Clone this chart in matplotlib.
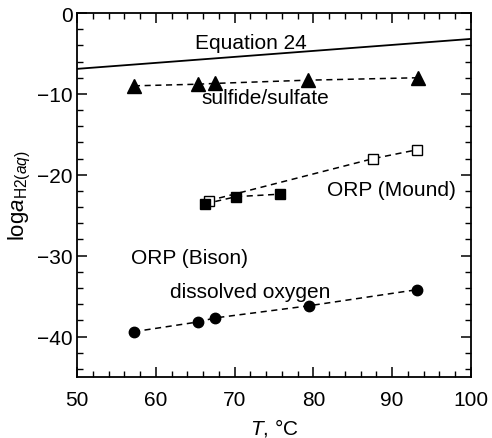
import numpy as np
import matplotlib
matplotlib.use('Agg')
from matplotlib import pyplot as plt

plt.rcParams['font.family'] = ['Liberation Sans', 'DejaVu Sans']
plt.rcParams['mathtext.fontset'] = 'custom'
plt.rcParams['mathtext.rm'] = 'Liberation Sans'
plt.rcParams['mathtext.it'] = 'Liberation Sans:italic'

# --- Daten ---
eq24_T = [50, 100]
eq24_loga = [-6.9, -3.2]

sulf_T = [57.2, 65.3, 67.5, 79.3, 93.3]
sulf_loga = [-9.0, -8.8, -8.7, -8.3, -8.0]

mound_T = [66.7, 87.6, 93.2]
mound_loga = [-23.2, -18.0, -16.9]

bison_T = [66.2, 70.2, 75.7]
bison_loga = [-23.6, -22.7, -22.4]

oxy_T = [57.2, 65.3, 67.5, 79.4, 93.2]
oxy_loga = [-39.4, -38.2, -37.7, -36.2, -34.2]

fig = plt.figure(figsize=(4.92, 4.39), dpi=100)
ax = fig.add_axes([0.157, 0.139, 0.8, 0.829])

dash = (0, (4, 3))
ax.plot(eq24_T, eq24_loga, color='black', lw=1.3)
ax.plot(sulf_T, sulf_loga, color='black', lw=1.1, ls=dash,
        marker='^', ms=9.5, mfc='black', mec='black')
ax.plot(mound_T, mound_loga, color='black', lw=1.1, ls=dash,
        marker='s', ms=6.5, mfc='white', mec='black', mew=1.0)
ax.plot(bison_T, bison_loga, color='black', lw=1.1, ls=dash,
        marker='s', ms=7, mfc='black', mec='black')
ax.plot(oxy_T, oxy_loga, color='black', lw=1.1, ls=dash,
        marker='o', ms=7.5, mfc='black', mec='black')

# Beschriftungen im Plot
fs = 15
ax.text(72, -3.6, 'Equation 24', fontsize=fs, ha='center', va='center')
ax.text(73.9, -10.4, 'sulfide/sulfate', fontsize=fs, ha='center', va='center')
ax.text(89.9, -21.8, 'ORP (Mound)', fontsize=fs, ha='center', va='center')
ax.text(64.3, -30.2, 'ORP (Bison)', fontsize=fs, ha='center', va='center')
ax.text(72, -34.4, 'dissolved oxygen', fontsize=fs, ha='center', va='center')

# Achsen
ax.set_xlim(50, 100)
ax.set_ylim(-45, 0)
ax.set_xticks(np.arange(50, 101, 10))
ax.set_yticks(np.arange(-40, 1, 10))
ax.set_xticks(np.arange(50, 101, 2), minor=True)
ax.set_yticks(np.arange(-44, 1, 2), minor=True)
ax.tick_params(which='both', direction='in', top=True, right=True, labelsize=fs)
ax.tick_params(which='major', length=7, width=1.1)
ax.tick_params(which='minor', length=4, width=1.0)
ax.tick_params(axis='x', which='major', pad=9.5)
for s in ax.spines.values():
    s.set_linewidth(1.3)

ax.set_xlabel(r'$T$, °C', fontsize=fs, labelpad=5)
ax.set_ylabel(r'log$a_{\mathrm{H2}(\mathit{aq})}$', fontsize=16, labelpad=3)

plt.savefig('out.png', dpi=100)
